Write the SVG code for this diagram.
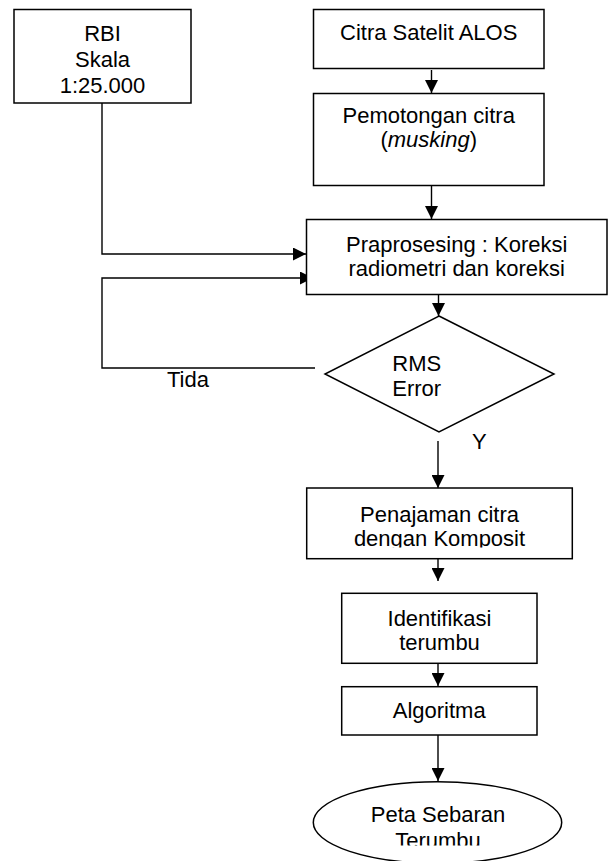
<svg xmlns="http://www.w3.org/2000/svg" width="608" height="861" viewBox="0 0 608 861">
<style>
.box{fill:#fff;stroke:#000;stroke-width:1.5}
.ln{fill:none;stroke:#000;stroke-width:1.4}
text{font-family:"Liberation Sans",Arial,sans-serif;font-size:22px;fill:#000}
.c{text-anchor:middle}
</style>
<defs>
<marker id="ah" markerUnits="userSpaceOnUse" markerWidth="14" markerHeight="13" refX="13" refY="6.5" orient="auto" viewBox="0 0 14 13">
<path d="M0,0 L13,6.5 L0,13 z" fill="#000"/>
</marker>
<clipPath id="clipPen"><rect x="300" y="480" width="280" height="67.5"/></clipPath>
<clipPath id="clipPeta"><rect x="300" y="780" width="280" height="65.5"/></clipPath>
</defs>
<rect width="608" height="861" fill="#fff"/>
<g id="connectors">
<path class="ln" d="M102,103 V254 H306" marker-end="url(#ah)"/>
<path class="ln" d="M315,368 H102 V278 H313" marker-end="url(#ah)"/>
<path class="ln" d="M431.5,70 V93" marker-end="url(#ah)"/>
<path class="ln" d="M431.5,186 V219" marker-end="url(#ah)"/>
<path class="ln" d="M438.5,294 V316" marker-end="url(#ah)"/>
<path class="ln" d="M438,441 V488" marker-end="url(#ah)"/>
<path class="ln" d="M438,559 V581" marker-end="url(#ah)"/>
<path class="ln" d="M438,663 V686" marker-end="url(#ah)"/>
<path class="ln" d="M438,735 V781" marker-end="url(#ah)"/>
<text x="167" y="387">Tida</text>
<text x="472" y="449">Y</text>
</g>
<g id="rbi">
<rect class="box" x="14" y="9.5" width="177" height="93.5"/>
<text class="c" x="102.5" y="40.5">RBI</text>
<text class="c" x="102.5" y="66.8">Skala</text>
<text class="c" x="102.5" y="93.2">1:25.000</text>
</g>
<g id="citra">
<rect class="box" x="313.5" y="9.5" width="230.5" height="59"/>
<text class="c" x="428.7" y="40">Citra Satelit ALOS</text>
</g>
<g id="pemotongan">
<rect class="box" x="313.5" y="93.5" width="230.5" height="92"/>
<text class="c" x="428.7" y="122.5">Pemotongan citra</text>
<text class="c" x="428.7" y="146.5">(<tspan font-style="italic">musking</tspan>)</text>
</g>
<g id="praprosesing">
<rect class="box" x="306.5" y="219.5" width="300.5" height="75"/>
<text class="c" x="456.7" y="251.7">Praprosesing : Koreksi</text>
<text class="c" x="456.7" y="276">radiometri dan koreksi</text>
</g>
<g id="rms">
<polygon class="box" points="439,316 554,374 439,432 325,374"/>
<text class="c" x="416.7" y="371">RMS</text>
<text class="c" x="416.7" y="396">Error</text>
</g>
<g id="penajaman">
<rect class="box" x="306.7" y="488" width="265.6" height="70.7"/>
<g clip-path="url(#clipPen)">
<text class="c" x="439.5" y="522">Penajaman citra</text>
<text class="c" x="439.5" y="546">dengan Komposit</text>
</g>
</g>
<g id="identifikasi">
<rect class="box" x="341.7" y="593.3" width="195.3" height="70"/>
<text class="c" x="439.5" y="625.5">Identifikasi</text>
<text class="c" x="439.5" y="650">terumbu</text>
</g>
<g id="algoritma">
<rect class="box" x="341.7" y="686.7" width="195.3" height="48.3"/>
<text class="c" x="439.2" y="717.7">Algoritma</text>
</g>
<g id="peta">
<ellipse class="box" cx="437.5" cy="822.5" rx="124.2" ry="40.8"/>
<g clip-path="url(#clipPeta)">
<text class="c" x="438" y="822">Peta Sebaran</text>
<text class="c" x="438" y="848">Terumbu</text>
</g>
</g>
</svg>
